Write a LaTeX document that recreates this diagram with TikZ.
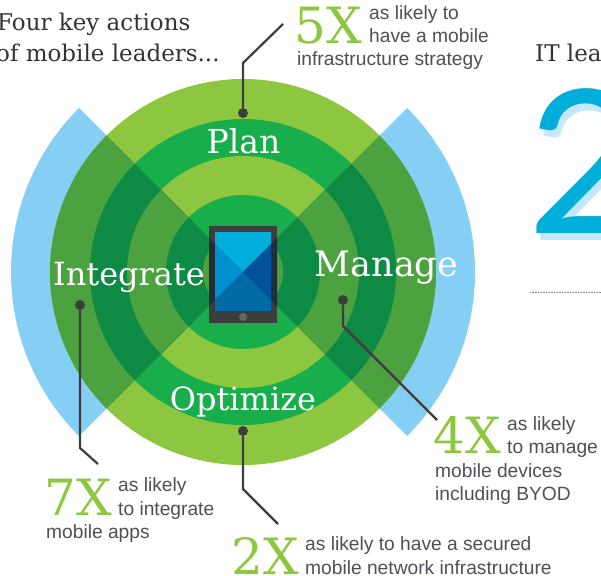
\documentclass[tikz,border=0pt]{standalone}
\usepackage{fontspec}
\setmainfont{Liberation Sans}
\newfontfamily\slab{DejaVu Serif}
\newfontfamily\figfont{Lato}
\definecolor{lg}{HTML}{8DC63F}
\definecolor{mg}{HTML}{17AE4B}
\definecolor{sl}{HTML}{4BA23F}
\definecolor{sd}{HTML}{0D8B45}
\definecolor{wing}{HTML}{85CFF5}
\definecolor{ink}{HTML}{3D3D3D}
\definecolor{txt}{HTML}{4D5057}
\definecolor{headc}{HTML}{333333}
\definecolor{cy}{HTML}{00AEDB}
\definecolor{cyl}{HTML}{C5E7FA}
\definecolor{scrl}{HTML}{0090D0}
\definecolor{scrr}{HTML}{00539B}
\definecolor{scrb}{HTML}{006BA6}
\definecolor{bezd}{HTML}{1F2E3A}
\definecolor{btn}{HTML}{666666}
\tikzset{
 lab/.style={text=white,inner sep=0pt,anchor=base},
 big/.style={text=lg,font=\slab\fontsize{50}{50}\selectfont,inner sep=0pt,anchor=base west},
 body/.style={text=txt,font=\fontsize{19.2}{23}\selectfont,inner sep=0pt,anchor=base west,align=left},
 head/.style={text=headc,font=\slab\fontsize{23}{23}\selectfont,inner sep=0pt,anchor=base west},
 lead/.style={draw=ink,line width=2.2pt,line join=round},
 dotn/.style={circle,fill=ink,minimum size=10pt,inner sep=0pt},
 numeral/.style={anchor=base west,inner sep=0pt,font=\figfont\fontsize{200}{200}\selectfont}
}
\newcommand{\labsize}[1]{\slab\fontsize{#1}{#1}\selectfont}
\begin{document}
\begin{tikzpicture}[x=1pt,y=-1pt]
\useasboundingbox (0,0) rectangle (601,575);
\clip (0,0) rectangle (601,575);
\coordinate (c) at (243,272);
% wings
\begin{scope}
 \clip (243,272) -- (-60,-31) -- (-60,575) -- cycle
       (243,272) -- (546,-31) -- (546,575) -- cycle;
 \fill[wing] (c) circle (232);
\end{scope}
% base rings
\fill[lg] (c) circle (193);
\fill[mg] (c) circle (153);
\fill[lg] (c) circle (116);
\fill[mg] (c) circle (77);
\fill[lg] (c) circle (40);
% side rings
\begin{scope}
 \clip (243,272) -- (-60,-31) -- (-60,575) -- cycle
       (243,272) -- (546,-31) -- (546,575) -- cycle;
 \fill[sl] (c) circle (193);
 \fill[sd] (c) circle (153);
 \fill[sl] (c) circle (116);
 \fill[sd] (c) circle (77);
 \fill[sl] (c) circle (40);
\end{scope}
% tablet
\fill[ink] (209,226) rectangle (277,323);
\begin{scope}
 \clip (209,226) rectangle (277,323);
 \fill[bezd] (c) -- (183,212) -- (183,332) -- cycle;
 \fill[bezd] (c) -- (303,212) -- (303,332) -- cycle;
\end{scope}
\begin{scope}
 \clip (215,232) rectangle (271,310);
 \fill[cy] (c) -- (183,212) -- (303,212) -- cycle;
 \fill[scrl] (c) -- (183,212) -- (183,332) -- cycle;
 \fill[scrr] (c) -- (303,212) -- (303,332) -- cycle;
 \fill[scrb] (c) -- (183,332) -- (303,332) -- cycle;
\end{scope}
\fill[btn] (243,317) circle (4);
% labels
\node[lab,font=\labsize{33}] (plan) at (243.5,153) {Plan};
\node[lab,font=\labsize{32}] (integrate) at (129,285) {Integrate};
\node[lab,font=\labsize{35}] (manage) at (386.5,276) {Manage};
\node[lab,font=\labsize{32}] (optimize) at (243,410) {Optimize};
% leaders
\node[dotn] (d1) at (243,113) {};
\node[dotn] (d2) at (343,300) {};
\node[dotn] (d3) at (80,305) {};
\node[dotn] (d4) at (243,431) {};
\coordinate (e1) at (283,24);
\coordinate (k1) at (243,63);
\coordinate (e2) at (437,420);
\coordinate (k2) at (343,326);
\coordinate (e3) at (98,464);
\coordinate (k3) at (80,448);
\coordinate (e4) at (278,524);
\coordinate (k4) at (243,489);
\draw[lead] (d1) -- (k1) -- (e1);
\draw[lead] (d2) -- (k2) -- (e2);
\draw[lead] (d3) -- (k3) -- (e3);
\draw[lead] (d4) -- (k4) -- (e4);
% texts
\node[head] (h1) at (-3,31) {Four key actions};
\node[head] (h2) at (-4,62) {of mobile leaders...};
\node[big] (x5) at (294,44) {5X};
\node[body] (t5a) at (369,20) {as likely to};
\node[body] (t5b) at (369,43) {have a mobile};
\node[body] (t5c) at (297,66) {infrastructure strategy};
\node[big] (x4) at (433,453) {4X};
\node[body] (t4a) at (507,430) {as likely};
\node[body] (t4b) at (507,453) {to manage};
\node[body] (t4c) at (435,477) {mobile devices};
\node[body] (t4d) at (435,500) {including BYOD};
\node[big] (x7) at (44,515) {7X};
\node[body] (t7a) at (118,491) {as likely};
\node[body] (t7b) at (118,515) {to integrate};
\node[body] (t7c) at (46,538) {mobile apps};
\node[big] (x2) at (231,574) {2X};
\node[body] (t2a) at (305,550) {as likely to have a secured};
\node[body] (t2b) at (305,574) {mobile network infrastructure};
\node[head] (it) at (535,62) {IT lea};
\node[numeral,text=cyl] (n2s) at (531,240) {2};
\node[numeral,text=cy] (n2) at (527,233) {2};
\draw[densely dotted,line width=0.6pt,draw=gray] (530,292) -- (601,292);
\end{tikzpicture}
\end{document}
